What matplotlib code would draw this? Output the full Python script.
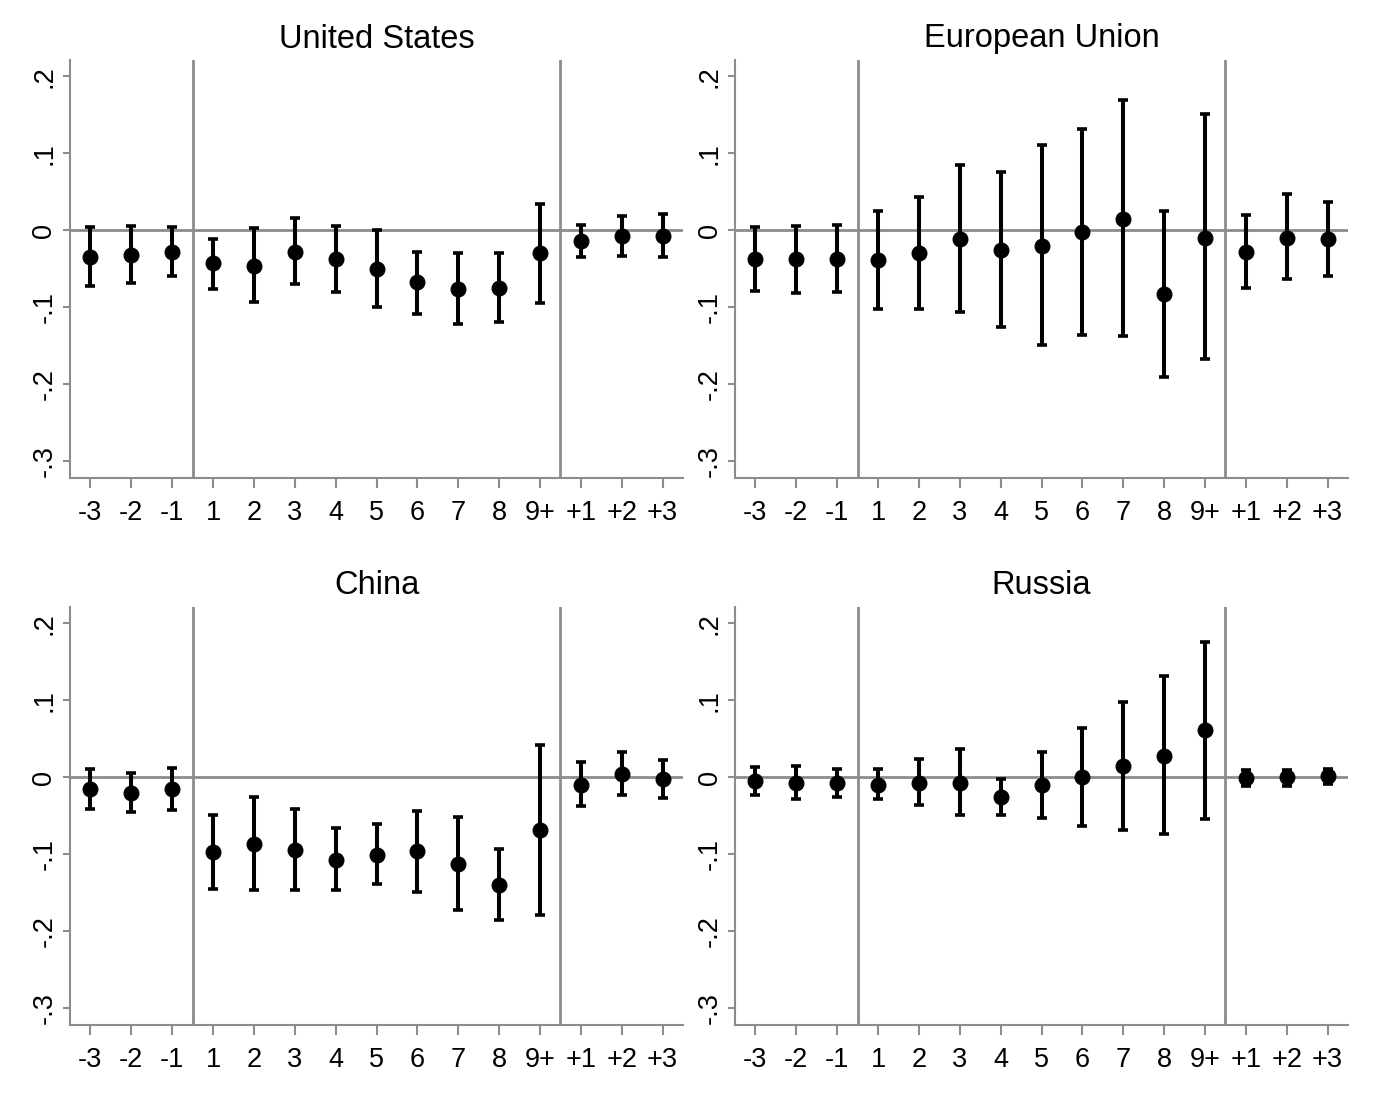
import matplotlib
matplotlib.use("Agg")
import matplotlib.pyplot as plt
import numpy as np

plt.rcParams['font.family'] = ['Liberation Sans', 'DejaVu Sans']

categories = ["-3", "-2", "-1", "1", "2", "3", "4", "5", "6", "7", "8", "9+", "+1", "+2", "+3"]

us_est = [-0.035, -0.032, -0.028, -0.043, -0.046, -0.028, -0.038, -0.050, -0.068, -0.077, -0.075, -0.030, -0.014, -0.008, -0.007]
us_hi  = [0.004, 0.005, 0.004, -0.011, 0.003, 0.016, 0.005, 0.000, -0.028, -0.030, -0.030, 0.034, 0.007, 0.018, 0.021]
us_lo  = [-0.072, -0.069, -0.060, -0.076, -0.093, -0.070, -0.080, -0.100, -0.109, -0.122, -0.119, -0.095, -0.035, -0.034, -0.035]

eu_est = [-0.038, -0.038, -0.038, -0.039, -0.030, -0.012, -0.026, -0.020, -0.003, 0.015, -0.083, -0.010, -0.028, -0.010, -0.012]
eu_hi  = [0.004, 0.006, 0.007, 0.025, 0.043, 0.085, 0.075, 0.111, 0.131, 0.169, 0.025, 0.151, 0.020, 0.047, 0.037]
eu_lo  = [-0.079, -0.082, -0.081, -0.102, -0.102, -0.107, -0.126, -0.149, -0.136, -0.138, -0.191, -0.168, -0.075, -0.064, -0.059]

cn_est = [-0.016, -0.020, -0.016, -0.097, -0.087, -0.095, -0.108, -0.101, -0.096, -0.113, -0.140, -0.069, -0.010, 0.004, -0.003]
cn_hi  = [0.010, 0.006, 0.012, -0.049, -0.026, -0.042, -0.066, -0.061, -0.044, -0.052, -0.093, 0.042, 0.019, 0.033, 0.022]
cn_lo  = [-0.041, -0.045, -0.043, -0.145, -0.147, -0.147, -0.147, -0.139, -0.149, -0.173, -0.186, -0.179, -0.038, -0.023, -0.027]

ru_est = [-0.005, -0.007, -0.008, -0.010, -0.007, -0.007, -0.026, -0.010, 0.000, 0.014, 0.027, 0.061, -0.001, 0.000, 0.001]
ru_hi  = [0.013, 0.015, 0.011, 0.010, 0.023, 0.036, -0.002, 0.033, 0.064, 0.097, 0.131, 0.176, 0.009, 0.009, 0.010]
ru_lo  = [-0.023, -0.029, -0.026, -0.029, -0.036, -0.049, -0.049, -0.053, -0.063, -0.069, -0.074, -0.054, -0.012, -0.011, -0.009]

titles = ["United States", "European Union", "China", "Russia"]
panels = [(us_est, us_lo, us_hi), (eu_est, eu_lo, eu_hi), (cn_est, cn_lo, cn_hi), (ru_est, ru_lo, ru_hi)]

W, H = 1379, 1098
fig = plt.figure(figsize=(W / 100, H / 100), dpi=100)
fig.patch.set_facecolor('white')

lefts = [70, 735, 70, 735]
tops = [60, 60, 607, 607]
aw, ah = 613, 418
gray = '#8c8c8c'

x = np.arange(len(categories))
for i, (title, (est, lo, hi)) in enumerate(zip(titles, panels)):
    l, t = lefts[i], tops[i]
    ax = fig.add_axes([l / W, 1 - (t + ah) / H, aw / W, ah / H])
    est = np.array(est); lo = np.array(lo); hi = np.array(hi)
    ax.axhline(0, color=gray, lw=2, zorder=1)
    ax.axvline(2.5, color=gray, lw=2, zorder=1)
    ax.axvline(11.5, color=gray, lw=2, zorder=1)
    ax.errorbar(x, est, yerr=[est - lo, hi - est], fmt='o', color='black',
                ms=10.5, elinewidth=2.9, capsize=3.8, capthick=2.6, zorder=3)
    ax.set_xlim(-0.5, 14.5)
    ax.set_ylim(-0.322, 0.221)
    ax.set_xticks(x)
    ax.set_xticklabels(categories)
    yt = [-0.3, -0.2, -0.1, 0, 0.1, 0.2]
    ax.set_yticks(yt)
    ax.set_yticklabels(["-.3", "-.2", "-.1", "0", ".1", ".2"], rotation=90, va='center')
    ax.tick_params(axis='both', width=1.5, color=gray, labelsize=19.5)
    ax.tick_params(axis='x', length=7.5, pad=8)
    ax.tick_params(axis='y', length=5, pad=4)
    for s in ['top', 'right']:
        ax.spines[s].set_visible(False)
    for s in ['left', 'bottom']:
        ax.spines[s].set_color(gray)
        ax.spines[s].set_linewidth(1.5)
    ax.set_title(title, fontsize=23.5, pad=9)

fig.savefig("out.png", dpi=100, facecolor='white')
